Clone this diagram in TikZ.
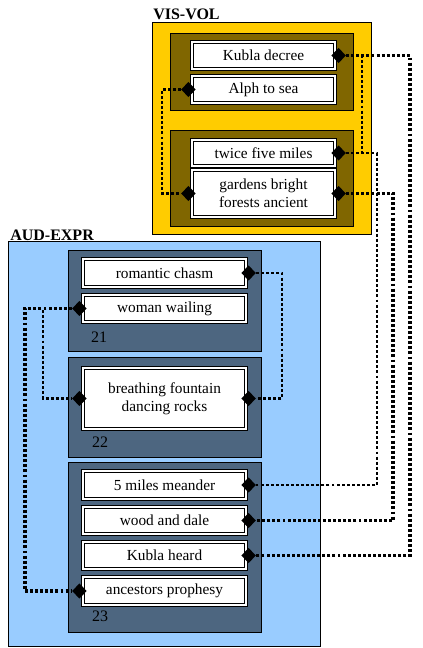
\documentclass[tikz,border=0pt]{standalone}
\usepackage{fontspec}
\setmainfont{Liberation Serif}
\usetikzlibrary{shapes.geometric}
\definecolor{visgold}{HTML}{FFCC00}
\definecolor{visdark}{HTML}{806600}
\definecolor{audblue}{HTML}{99CCFF}
\definecolor{auddark}{HTML}{4D6680}
\begin{document}
\begin{tikzpicture}[x=0.75pt,y=-0.75pt,
  frame/.style={draw=black, line width=0.75pt},
  leaf/.style={draw=black, fill=white, line width=0.9pt, double=white, double distance=1.4pt,
    inner sep=0pt, align=center, font=\fontsize{11.5}{13.5}\selectfont},
  visleaf/.style={leaf, minimum width=107.25pt, minimum height=20.25pt},
  audleaf/.style={leaf, minimum width=122.25pt, minimum height=21pt},
  dia/.style={diamond, shape aspect=1, fill=black, inner sep=0pt, minimum width=11pt, minimum height=11.5pt},
  conn/.style={line width=1.8pt, dash pattern=on 2.2pt off 1.6pt},
  connthick/.style={conn, line width=2.3pt},
  title/.style={anchor=base west, inner sep=0pt, font=\fontsize{12}{14}\selectfont\bfseries},
  numlabel/.style={inner sep=0pt, font=\fontsize{12}{14}\selectfont}]
\useasboundingbox (0,0) rectangle (423,648);

% group frames
\filldraw[frame, fill=visgold] (152,23) rectangle (371,235);
\filldraw[frame, fill=visdark] (170,34) rectangle (353,111);
\filldraw[frame, fill=visdark] (170,131) rectangle (353,227);
\node[title] (vistitle) at (153,20) {VIS-VOL};

\filldraw[frame, fill=audblue] (8,242) rectangle (320,646);
\filldraw[frame, fill=auddark] (68,250) rectangle (261,351);
\filldraw[frame, fill=auddark] (68,357) rectangle (261,457);
\filldraw[frame, fill=auddark] (68,462) rectangle (261,632);
\node[title] (audtitle) at (10,241) {AUD-EXPR};

\node[numlabel] (n21) at (99,337) {21};
\node[numlabel] (n22) at (100,442) {22};
\node[numlabel] (n23) at (100,616) {23};

% VIS-VOL leaves
\node[visleaf] (kd) at (263.5,55.5) {Kubla decree};
\node[visleaf] (as) at (263.5,89.5) {Alph to sea};
\node[visleaf, minimum height=19.5pt] (tf) at (263.5,153) {twice five miles};
\node[visleaf, minimum height=35.25pt] (gb) at (263.5,193.5) {gardens bright\\forests ancient};

% AUD-EXPR leaves
\node[audleaf] (rc) at (164.5,273) {romantic chasm};
\node[audleaf, minimum height=20.25pt] (ww) at (164.5,308.5) {woman wailing};
\node[audleaf, minimum height=45.75pt] (bf) at (164.5,398.5) {breathing fountain\\dancing rocks};
\node[audleaf] (mm) at (164.5,485) {5 miles meander};
\node[audleaf, minimum height=20.25pt] (wd) at (164.5,520.5) {wood and dale};
\node[audleaf, minimum height=20.25pt] (kh) at (164.5,555.5) {Kubla heard};
\node[audleaf] (ap) at (164.5,591) {ancestors prophesy};

% ports
\node[dia] (kd-r) at ([xshift=2.25pt]kd.east) {};
\node[dia] (as-l) at ([xshift=-2.25pt]as.west) {};
\node[dia] (tf-r) at ([xshift=2.25pt]tf.east) {};
\node[dia] (gb-l) at ([xshift=-2.25pt]gb.west) {};
\node[dia] (gb-r) at ([xshift=2.25pt]gb.east) {};
\node[dia] (rc-r) at ([xshift=1.5pt]rc.east) {};
\node[dia] (ww-l) at ([xshift=-2.25pt]ww.west) {};
\node[dia] (bf-l) at ([xshift=-2.25pt]bf.west) {};
\node[dia] (bf-r) at ([xshift=1.5pt]bf.east) {};
\node[dia] (mm-r) at ([xshift=1.5pt]mm.east) {};
\node[dia] (wd-r) at ([xshift=1.5pt]wd.east) {};
\node[dia] (kh-r) at ([xshift=1.5pt]kh.east) {};
\node[dia] (ap-l) at ([xshift=-2.25pt]ap.west) {};

% routing columns
\coordinate (bA) at (410,0);
\coordinate (bB) at (362,0);
\coordinate (bC) at (377,0);
\coordinate (bD) at (393,0);
\coordinate (bE) at (162,0);
\coordinate (bF) at (282,0);
\coordinate (bG) at (43,0);
\coordinate (bH) at (25,0);

% connectors
\draw[connthick] (kd-r.east) -- (kd-r.east -| bA) -- (kh-r.east -| bA) -- (kh-r.east);
\draw[conn] (kd-r.east) -- (kd-r.east -| bB) -- (tf-r.east -| bB) -- (tf-r.east);
\draw[conn] (tf-r.east) -- (tf-r.east -| bC) -- (mm-r.east -| bC) -- (mm-r.east);
\draw[connthick] (gb-r.east) -- (gb-r.east -| bD) -- (wd-r.east -| bD) -- (wd-r.east);
\draw[conn] (as-l.west) -- (as-l.west -| bE) -- (gb-l.west -| bE) -- (gb-l.west);
\draw[conn] (rc-r.east) -- (rc-r.east -| bF) -- (bf-r.east -| bF) -- (bf-r.east);
\draw[conn] (ww-l.west) -- (ww-l.west -| bG) -- (bf-l.west -| bG) -- (bf-l.west);
\draw[connthick] (ww-l.west) -- (ww-l.west -| bH) -- (ap-l.west -| bH) -- (ap-l.west);
\end{tikzpicture}
\end{document}
